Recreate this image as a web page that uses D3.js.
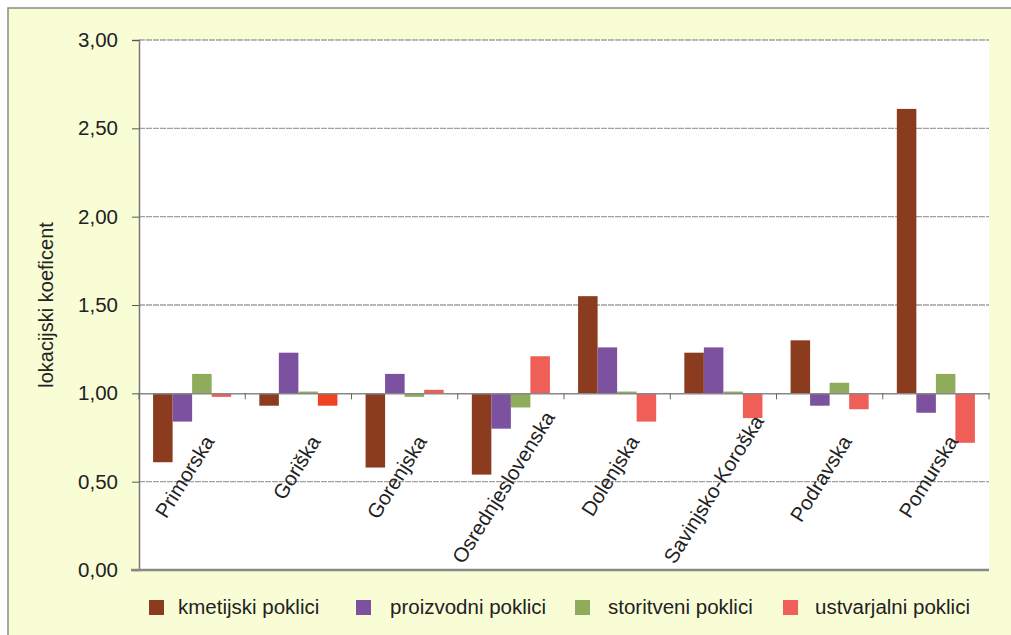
<!DOCTYPE html>
<html>
<head>
<meta charset="utf-8">
<script src="https://cdn.jsdelivr.net/npm/d3@7"></script>
<style>
  body { margin: 0; background: #ffffff; }
  svg text { font-family: "Liberation Sans", Arial, sans-serif; fill: #222; }
</style>
</head>
<body>
<svg id="chart" width="1011" height="635"></svg>
<script>
var regions = ["Primorska", "Goriška", "Gorenjska", "Osrednjeslovenska", "Dolenjska", "Savinjsko-Koroška", "Podravska", "Pomurska"];
var seriesNames = ["kmetijski poklici", "proizvodni poklici", "storitveni poklici", "ustvarjalni poklici"];
var kmetijski   = [0.61, 0.93, 0.58, 0.54, 1.55, 1.23, 1.30, 2.61];
var proizvodni  = [0.84, 1.23, 1.11, 0.80, 1.26, 1.26, 0.93, 0.89];
var storitveni  = [1.11, 1.01, 0.98, 0.92, 1.01, 1.01, 1.06, 1.11];
var ustvarjalni = [0.98, 0.93, 1.02, 1.21, 0.84, 0.86, 0.91, 0.72];
var yTicks = [0, 0.5, 1, 1.5, 2, 2.5, 3];

(function() {
    var seriesValues = [kmetijski, proizvodni, storitveni, ustvarjalni];
    var colors = ["#8B3B1E", "#7B51A0", "#8EAC5A", "#F05E58"];
    var margin = { top: 40, left: 139, right: 22, bottom: 65 },
        width = 1011 - margin.left - margin.right,
        height = 635 - margin.top - margin.bottom;

    var svg = d3.select("#chart");

    // background panel
    svg.append("rect")
        .attr("x", 8).attr("y", 8)
        .attr("width", 1030).attr("height", 650)
        .attr("fill", "#F8FDD6")
        .attr("stroke", "#8a8a8a")
        .attr("stroke-width", 1.5);

    var g = svg.append("g")
        .attr("transform", `translate(${margin.left}, ${margin.top})`);

    g.append("rect")
        .attr("width", width).attr("height", height)
        .attr("fill", "#ffffff");

    var x0 = d3.scaleBand().domain(regions).range([0, width]).paddingInner(0.265).paddingOuter(0.1325);
    var x1 = d3.scaleBand().domain(d3.range(4)).range([0, x0.bandwidth()]);
    var y = d3.scaleLinear().domain([0, 3]).range([height, 0]);

    // gridlines
    g.selectAll(".grid")
        .data(yTicks.filter(d => d > 0 && d !== 1))
        .enter().append("line")
        .attr("x1", 0).attr("x2", width)
        .attr("y1", d => y(d)).attr("y2", d => y(d))
        .attr("stroke", "#a0a0a0")
        .attr("stroke-width", 1.3)
        .attr("stroke-dasharray", "6,1");

    // y axis
    var yAxis = g.append("g")
        .call(d3.axisLeft(y).tickValues(yTicks).tickSize(7).tickPadding(14)
            .tickFormat(d => d3.format(".2f")(d).replace(".", ",")));
    yAxis.select(".domain").attr("stroke", "#777").attr("stroke-width", 1.5);
    yAxis.selectAll(".tick line").attr("stroke", "#555");
    yAxis.selectAll("text").style("font-size", "20.5px").attr("fill", "#222");

    // bars
    var groups = g.selectAll(".grp")
        .data(regions)
        .enter().append("g")
        .attr("transform", d => `translate(${x0(d)}, 0)`);

    groups.selectAll("rect")
        .data((d, i) => seriesValues.map((s, k) => ({ k: k, v: s[i], region: d })))
        .enter().append("rect")
        .attr("x", d => x1(d.k))
        .attr("width", x1.bandwidth())
        .attr("y", d => y(Math.max(d.v, 1)))
        .attr("height", d => Math.abs(y(d.v) - y(1)))
        .attr("fill", d => (d.region === "Goriška" && d.k === 3) ? "#EE4422" : colors[d.k]);

    // baseline axis at 1,00
    var xAxis = g.append("g")
        .attr("transform", `translate(0, ${y(1)})`)
        .call(d3.axisBottom(x0).tickSize(0).tickFormat(""));
    xAxis.select(".domain").attr("stroke", "#888").attr("stroke-width", 1.5);

    var boundaries = d3.range(0, regions.length + 1).map(i => i * width / regions.length);
    g.selectAll(".xtick")
        .data(boundaries)
        .enter().append("line")
        .attr("x1", d => d).attr("x2", d => d)
        .attr("y1", y(1)).attr("y2", y(1) + 6)
        .attr("stroke", "#666");

    // bottom line
    g.append("line")
        .attr("x1", -8).attr("x2", width)
        .attr("y1", height).attr("y2", height)
        .attr("stroke", "#888").attr("stroke-width", 2.5);

    // category labels (long ones pushed up so they fit above the bottom line)
    var ang = 58, rad = ang * Math.PI / 180;
    g.selectAll(".cat")
        .data(regions)
        .enter().append("text")
        .style("text-anchor", "end")
        .style("font-size", "20.5px")
        .text(d => d)
        .attr("transform", function(d) {
            var L = this.getComputedTextLength();
            var ey = Math.min(y(1) + 48, height - 5 - L * Math.sin(rad));
            var ex = x0(d) + x0.bandwidth() / 2 + 23 + (y(1) + 48 - ey) * 0.9;
            return `translate(${ex}, ${ey}) rotate(${-ang})`;
        });

    // y label
    svg.append("text")
        .attr("transform", "rotate(-90)")
        .attr("x", -(margin.top + height / 2))
        .attr("y", 53)
        .style("text-anchor", "middle")
        .style("font-size", "20px")
        .text("lokacijski koeficent");

    // legend
    var legendX = [149, 356, 575, 783];
    var legendTextDx = [29, 34, 33, 32];
    var legend = svg.selectAll(".leg")
        .data(seriesNames)
        .enter().append("g")
        .attr("transform", (d, i) => `translate(${legendX[i]}, 600)`);
    legend.append("rect")
        .attr("width", 15).attr("height", 15)
        .attr("fill", (d, i) => colors[i]);
    legend.append("text")
        .attr("x", (d, i) => legendTextDx[i])
        .attr("y", 13.5)
        .style("font-size", "20.5px")
        .text(d => d);
})();
</script>
</body>
</html>
